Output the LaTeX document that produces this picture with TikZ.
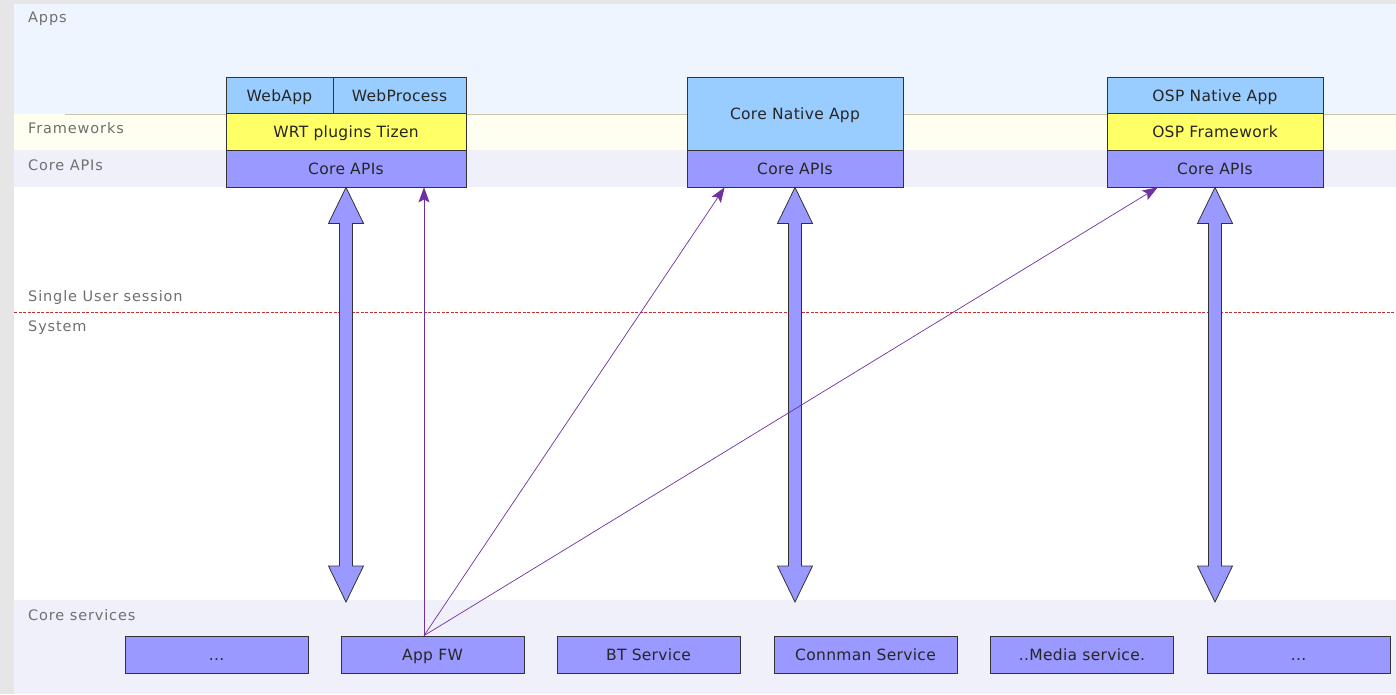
\documentclass[tikz,border=0pt]{standalone}
\usepackage{fontspec}
\setmainfont{DejaVu Sans}
\newfontfamily\boxfont{DejaVu Sans}[LetterSpace=2]
\newfontfamily\layerfont{DejaVu Sans}[LetterSpace=6]
\usetikzlibrary{arrows.meta,calc}

\definecolor{framegray}{HTML}{E6E6E6}
\definecolor{appsband}{HTML}{EEF5FE}
\definecolor{fwband}{HTML}{FEFFF0}
\definecolor{fwline}{HTML}{C8C8A8}
\definecolor{apiband}{HTML}{F0F0FA}
\definecolor{appblue}{HTML}{99CCFF}
\definecolor{fwyellow}{HTML}{FFFF66}
\definecolor{apiviolet}{HTML}{9999FF}
\definecolor{labelgray}{HTML}{707070}
\definecolor{callpurple}{HTML}{7030A0}
\definecolor{sessionred}{HTML}{C03030}

\newcommand\syncarrow[2]{%
  \draw[sync] let \p1=(#1), \p2=(#2) in
    (\x1,\y1) -- (\x1+17.5pt,\y1-36pt) -- (\x1+6.5pt,\y1-36pt) -- (\x1+6.5pt,\y2+36pt)
    -- (\x1+17.5pt,\y2+36pt) -- (\x1,\y2) -- (\x1-17.5pt,\y2+36pt) -- (\x1-6.5pt,\y2+36pt)
    -- (\x1-6.5pt,\y1-36pt) -- (\x1-17.5pt,\y1-36pt) -- cycle;}

\begin{document}
\begin{tikzpicture}[x=1pt, y=-1pt]
  \tikzstyle{box}=[draw=black!80, line width=0.8pt, inner sep=0pt, minimum height=37pt, text height=11.5pt, text depth=0pt, text=black!85, font=\boxfont\fontsize{15.5}{18}\selectfont]
  \tikzstyle{app}=[box, fill=appblue]
  \tikzstyle{fw}=[box, fill=fwyellow]
  \tikzstyle{api}=[box, fill=apiviolet]
  \tikzstyle{svc}=[api, minimum width=183pt]
  \tikzstyle{layer}=[anchor=west, inner sep=0pt, text=labelgray, font=\layerfont\fontsize{14.5}{17}\selectfont]
  \tikzstyle{sync}=[draw=black!80, line width=0.8pt, fill=apiviolet, line join=miter]
  \tikzstyle{call}=[color=callpurple, line width=0.7pt, -{Stealth[length=15pt, width=11pt, inset=3pt]}]

  \useasboundingbox (0,0) rectangle (1396,694);
  \fill[framegray] (0,0)    rectangle (1396,694);
  \fill[appsband]  (14,4)   rectangle (1396,114);
  \fill[fwband]    (14,114) rectangle (1396,150);
  \fill[apiband]   (14,150) rectangle (1396,187);
  \fill[white]     (14,187) rectangle (1396,600);
  \fill[apiband]   (14,600) rectangle (1396,694);
  \draw[fwline, line width=0.6pt] (65,114) -- (1396,114);
  \draw[sessionred, line width=0.7pt, dash pattern=on 3pt off 1.5pt] (14,312) -- (1396,312);

  \node[layer] (lapps)    at (28,19)  {Apps};
  \node[layer] (lfw)      at (28,128) {Frameworks};
  \node[layer] (lapi)     at (28,165) {Core APIs};
  \node[layer] (lsession) at (28,297) {Single User session};
  \node[layer] (lsystem)  at (28,328) {System};
  \node[layer] (lsvc)     at (28,615) {Core services};

  \node[app, minimum width=107pt] (webapp)  at (279.5,95.5) {WebApp};
  \node[app, minimum width=133pt] (webproc) at (399.5,95.5) {WebProcess};
  \node[fw,  minimum width=240pt] (wrt)     at (346,132)    {WRT plugins Tizen};
  \node[api, minimum width=240pt] (capiA)   at (346,168.5)  {Core APIs};

  \node[app, minimum width=216pt, minimum height=73pt] (native) at (795,113.5) {Core Native App};
  \node[api, minimum width=216pt] (capiB) at (795,168.5) {Core APIs};

  \node[app, minimum width=216pt] (ospapp) at (1215,95.5)  {OSP Native App};
  \node[fw,  minimum width=216pt] (ospfw)  at (1215,132)   {OSP Framework};
  \node[api, minimum width=216pt] (capiC)  at (1215,168.5) {Core APIs};

  \node[svc] (svc1)    at (216.5,654.5)  {...};
  \node[svc] (appfw)   at (432.5,654.5)  {App FW};
  \node[svc] (bt)      at (648.5,654.5)  {BT Service};
  \node[svc] (connman) at (865.5,654.5)  {Connman Service};
  \node[svc] (media)   at (1082,654.5)   {..Media service.};
  \node[svc] (svc6)    at (1298.5,654.5) {...};

  \coordinate (svctop) at (0,602);
  \coordinate (fwout)  at ([xshift=-8.5pt]appfw.north);

  \syncarrow{capiA.south}{capiA.south |- svctop}
  \syncarrow{capiB.south}{capiB.south |- svctop}
  \syncarrow{capiC.south}{capiC.south |- svctop}

  \draw[call] (fwout) -- (fwout |- capiA.south);
  \draw[call] (fwout) -- ([xshift=38pt]capiB.south west);
  \draw[call] (fwout) -- ([xshift=51pt]capiC.south west);
\end{tikzpicture}
\end{document}
